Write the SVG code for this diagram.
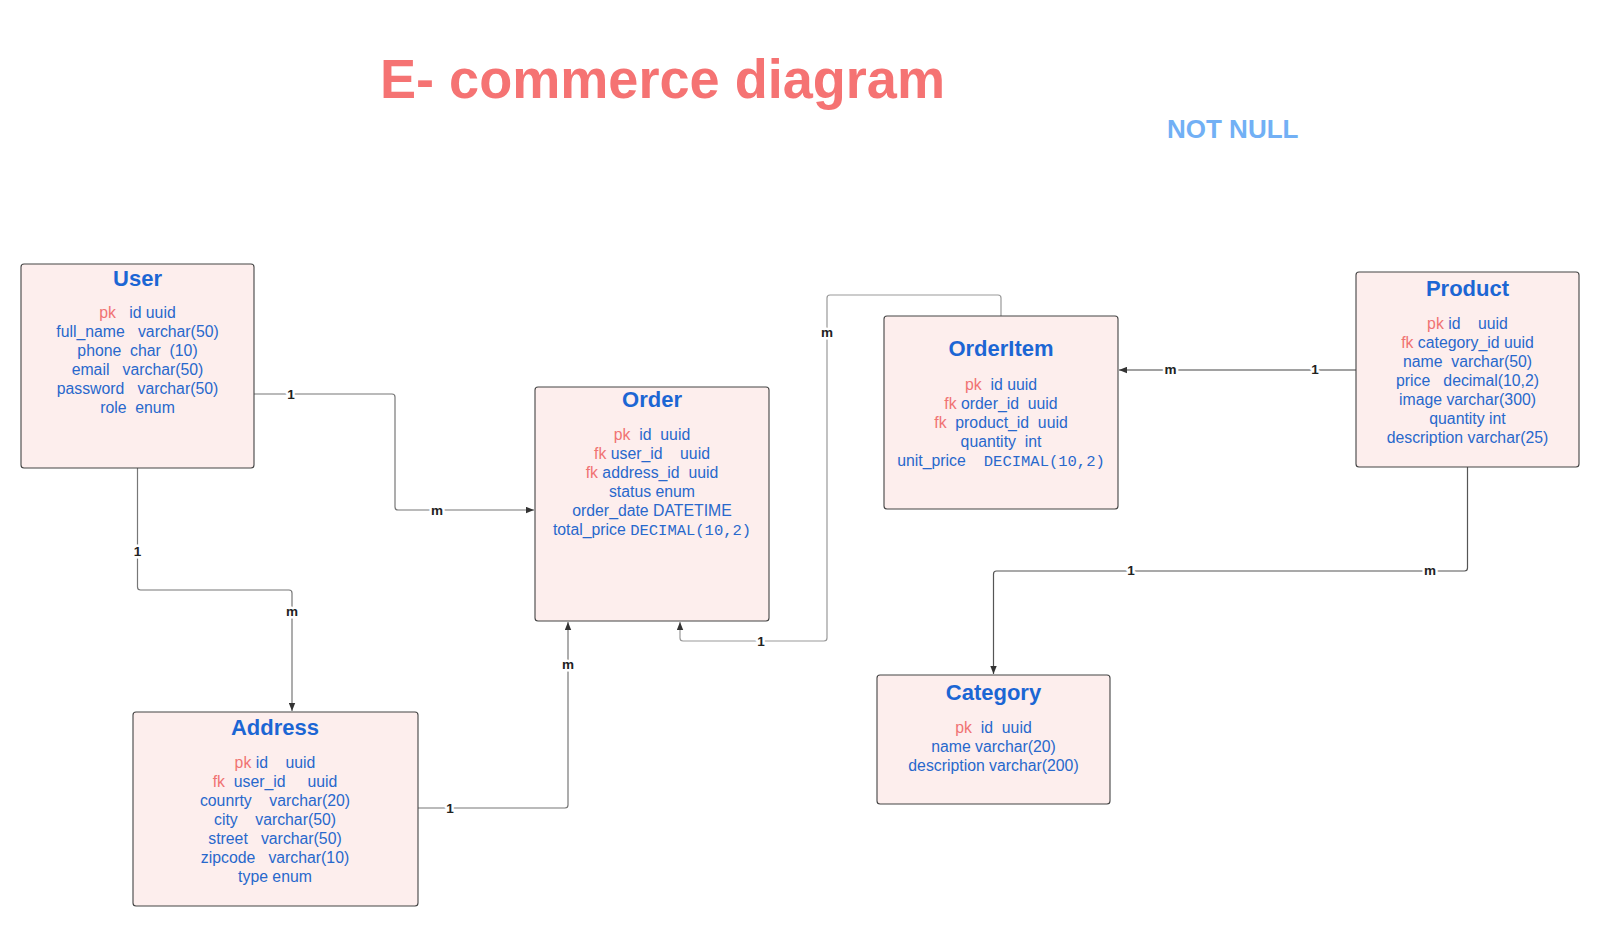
<svg xmlns="http://www.w3.org/2000/svg" width="1600" height="927" viewBox="0 0 1600 927" xml:space="preserve">
<style>
text{white-space:pre}
.box{fill:#fdeeed;stroke:#444;stroke-width:1.1}
.ttl{font-family:"Liberation Sans",Arial,sans-serif;font-weight:bold;font-size:22px;fill:#1c66d4;text-anchor:middle}
.row{font-family:"Liberation Sans",Arial,sans-serif;font-size:15.8px;fill:#2868cc;text-anchor:middle}
.k{fill:#f07373}
.mono{font-family:"Liberation Mono","DejaVu Sans Mono",monospace;font-size:15.5px}
.conn{fill:none;stroke:#777;stroke-width:1.2}
.lbl{font-family:"Liberation Sans",Arial,sans-serif;font-weight:bold;font-size:13.5px;fill:#222;text-anchor:middle;dominant-baseline:central;paint-order:stroke;stroke:#fff;stroke-width:5px;stroke-linejoin:round}
</style>
<defs>
<marker id="arr" viewBox="0 0 10 8" refX="10" refY="4" markerWidth="8" markerHeight="7" markerUnits="userSpaceOnUse" orient="auto">
<path d="M0,0 L10,4 L0,8 z" fill="#333"/>
</marker>
</defs>
<rect width="1600" height="927" fill="#ffffff"/>
<text x="380" y="98" font-family="'Liberation Sans',Arial,sans-serif" font-weight="bold" font-size="55" fill="#f57373" textLength="565" lengthAdjust="spacingAndGlyphs">E- commerce diagram</text>
<text x="1167" y="138" font-family="'Liberation Sans',Arial,sans-serif" font-weight="bold" font-size="26" fill="#72b0f5">NOT NULL</text>

<g id="connectors">
<path class="conn" d="M254,394 H392 Q395,394 395,397 V507 Q395,510 398,510 H534" marker-end="url(#arr)"/>
<path class="conn" d="M137.5,468 V587 Q137.5,590 140.5,590 H289 Q292,590 292,593 V711" marker-end="url(#arr)"/>
<path class="conn" d="M418,808 H565 Q568,808 568,805 V622" marker-end="url(#arr)"/>
<path class="conn" style="stroke:#999" d="M1001,316 V298 Q1001,295 998,295 H830 Q827,295 827,298 V638 Q827,641 824,641 H683 Q680,641 680,638 V622" marker-end="url(#arr)"/>
<path class="conn" style="stroke:#444" d="M1356,370 H1119" marker-end="url(#arr)"/>
<path class="conn" style="stroke:#555" d="M1467.5,467 V568 Q1467.5,571 1464.5,571 H996.5 Q993.5,571 993.5,574 V674" marker-end="url(#arr)"/>
<text class="lbl" x="291" y="394">1</text>
<text class="lbl" x="437" y="510">m</text>
<text class="lbl" x="137.5" y="551">1</text>
<text class="lbl" x="292" y="611">m</text>
<text class="lbl" x="450" y="808">1</text>
<text class="lbl" x="568" y="664">m</text>
<text class="lbl" x="827" y="332">m</text>
<text class="lbl" x="761" y="641">1</text>
<text class="lbl" x="1315" y="369">1</text>
<text class="lbl" x="1170.5" y="369">m</text>
<text class="lbl" x="1430" y="570">m</text>
<text class="lbl" x="1131" y="570">1</text>
</g>

<g id="user">
<rect class="box" x="21" y="264" width="233" height="204" rx="3"/>
<text class="ttl" x="137.5" y="286">User</text>
<text class="row" x="137.5" y="318"><tspan class="k">pk</tspan>   id uuid</text>
<text class="row" x="137.5" y="337">full_name   varchar(50)</text>
<text class="row" x="137.5" y="356">phone  char  (10)</text>
<text class="row" x="137.5" y="375">email   varchar(50)</text>
<text class="row" x="137.5" y="394">password   varchar(50)</text>
<text class="row" x="137.5" y="413">role  enum</text>
</g>

<g id="order">
<rect class="box" x="535" y="387" width="234" height="234" rx="3"/>
<text class="ttl" x="652" y="407">Order</text>
<text class="row" x="652" y="440"><tspan class="k">pk</tspan>  id  uuid</text>
<text class="row" x="652" y="459"><tspan class="k">fk</tspan> user_id    uuid</text>
<text class="row" x="652" y="478"><tspan class="k">fk</tspan> address_id  uuid</text>
<text class="row" x="652" y="497">status enum</text>
<text class="row" x="652" y="516">order_date DATETIME</text>
<text class="row" x="652" y="535">total_price <tspan class="mono">DECIMAL(10,2)</tspan></text>
</g>

<g id="orderitem">
<rect class="box" x="884" y="316" width="234" height="193" rx="3"/>
<text class="ttl" x="1001" y="356">OrderItem</text>
<text class="row" x="1001" y="389.5"><tspan class="k">pk</tspan>  id uuid</text>
<text class="row" x="1001" y="408.5"><tspan class="k">fk</tspan> order_id  uuid</text>
<text class="row" x="1001" y="427.5"><tspan class="k">fk</tspan>  product_id  uuid</text>
<text class="row" x="1001" y="446.5">quantity  int</text>
<text class="row" x="1001" y="465.5">unit_price  <tspan class="mono"> DECIMAL(10,2)</tspan></text>
</g>

<g id="product">
<rect class="box" x="1356" y="272" width="223" height="195" rx="3"/>
<text class="ttl" x="1467.5" y="296">Product</text>
<text class="row" x="1467.5" y="329"><tspan class="k">pk</tspan> id    uuid</text>
<text class="row" x="1467.5" y="348"><tspan class="k">fk</tspan> category_id uuid</text>
<text class="row" x="1467.5" y="367">name  varchar(50)</text>
<text class="row" x="1467.5" y="386">price   decimal(10,2)</text>
<text class="row" x="1467.5" y="405">image varchar(300)</text>
<text class="row" x="1467.5" y="424">quantity int</text>
<text class="row" x="1467.5" y="443">description varchar(25)</text>
</g>

<g id="address">
<rect class="box" x="133" y="712" width="285" height="194" rx="3"/>
<text class="ttl" x="275" y="735">Address</text>
<text class="row" x="275" y="768"><tspan class="k">pk</tspan> id    uuid</text>
<text class="row" x="275" y="787"><tspan class="k">fk</tspan>  user_id     uuid</text>
<text class="row" x="275" y="806">counrty    varchar(20)</text>
<text class="row" x="275" y="825">city    varchar(50)</text>
<text class="row" x="275" y="844">street   varchar(50)</text>
<text class="row" x="275" y="863">zipcode   varchar(10)</text>
<text class="row" x="275" y="882">type enum</text>
</g>

<g id="category">
<rect class="box" x="877" y="675" width="233" height="129" rx="3"/>
<text class="ttl" x="993.5" y="699.5">Category</text>
<text class="row" x="993.5" y="732.5"><tspan class="k">pk</tspan>  id  uuid</text>
<text class="row" x="993.5" y="751.5">name varchar(20)</text>
<text class="row" x="993.5" y="770.5">description varchar(200)</text>
</g>
</svg>
